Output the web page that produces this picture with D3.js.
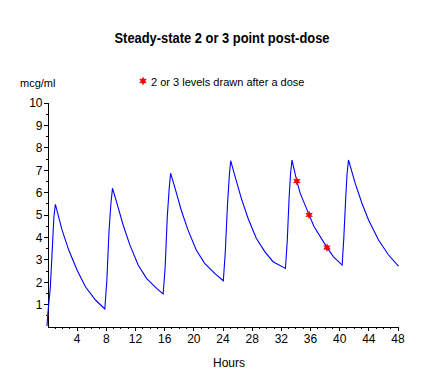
<!DOCTYPE html>
<html><head><meta charset="utf-8">
<script src="https://cdn.jsdelivr.net/npm/d3@7"></script>
<style>
body{margin:0;background:#fff;}
svg{display:block;font-family:"Liberation Sans",Arial,sans-serif;}
</style></head>
<body>
<script>
// ---- data ----
const hours = [0,0.1,0.45,0.75,0.95,1.15,2.06,2.98,4.12,5.27,6.65,7.93,
  8.2,8.5,8.75,8.98,9.53,10.44,11.36,12.5,13.65,15.03,15.93,
  16.2,16.5,16.75,16.95,17.5,18.4,19.33,20.47,21.62,23.0,24.18,
  24.45,24.75,25.0,25.19,25.74,26.65,27.57,28.7,29.86,31.0,32.7,
  32.95,33.2,33.4,33.6,34.26,34.73,35.95,36.6,38.4,39.3,40.48,
  40.7,40.95,41.15,41.35,42.27,43.19,44.1,45.47,46.84,48.2];
const levels = [0,0.5,1.7,3.6,4.9,5.43,4.29,3.39,2.5,1.75,1.16,0.76,
  2.0,4.2,5.4,6.15,5.55,4.51,3.62,2.72,2.13,1.68,1.43,
  2.6,4.9,6.1,6.82,6.22,5.18,4.29,3.39,2.8,2.35,2.02,
  3.3,5.4,6.7,7.38,6.74,5.7,4.81,3.92,3.32,2.87,2.57,
  3.8,5.7,6.8,7.41,6.47,5.92,4.96,4.45,3.5,3.09,2.72,
  3.9,5.6,6.8,7.41,6.37,5.48,4.73,3.84,3.17,2.67];
const drawnHours = [34.26,35.95,38.4];
const drawnLevels = [6.47,4.96,3.5];
const startHour = [0.1];
const startLevel = [0.5];
const xTickLabels = [4,8,12,16,20,24,28,32,36,40,44,48];
const yTickLabels = [1,2,3,4,5,6,7,8,9,10];
const titleText = "Steady-state 2 or 3 point post-dose";
const yUnit = "mcg/ml";
const xTitle = "Hours";
const legendText = "2 or 3 levels drawn after a dose";

// ---- drawing ----
const W = 433, H = 381;
const svg = d3.select("body").append("svg").attr("width", W).attr("height", H);

const x = d3.scaleLinear().domain([0,48]).range([47, 397]);
const y = d3.scaleLinear().domain([0,10]).range([326, 102]);

svg.append("text").attr("x", 222).attr("y", 43).attr("text-anchor","middle")
  .attr("font-size", 14).attr("font-weight","bold")
  .attr("textLength", 215).attr("lengthAdjust","spacingAndGlyphs").text(titleText);
svg.append("text").attr("x", 20).attr("y", 87).attr("font-size", 11).text(yUnit);

// six-pointed star marker
const hexStar = {
  draw(ctx, size) {
    const R = Math.sqrt(size) * 0.62, r = R * 0.5;
    for (let i = 0; i < 12; i++) {
      const a = -Math.PI / 2 + i * Math.PI / 6;
      const rr = i % 2 === 0 ? R : r;
      const px = rr * Math.cos(a), py = rr * Math.sin(a);
      if (i === 0) ctx.moveTo(px, py); else ctx.lineTo(px, py);
    }
    ctx.closePath();
  }
};
const starPath = d3.symbol().type(hexStar).size(50);

svg.append("path").attr("d", starPath()).attr("transform","translate(143,81)").attr("fill","#ff0000");
svg.append("text").attr("x", 151).attr("y", 86).attr("font-size", 11).text(legendText);

// axes
const gx = svg.append("g").attr("transform","translate(0.5,326.5)")
  .style("shape-rendering","crispEdges");
gx.call(d3.axisBottom(x).tickValues(d3.range(1,49,1)).tickSize(2).tickSizeOuter(0).tickFormat(""));
gx.selectAll(".tick").filter(d => xTickLabels.includes(d)).select("line").attr("y2", 4);
gx.selectAll(".tick").filter(d => xTickLabels.includes(d)).select("text")
  .text(d => d).attr("font-size", 12).attr("font-family","Liberation Sans, Arial, sans-serif").attr("dy","0.71em").attr("y", 8).attr("fill","#000");
gx.select(".domain").attr("stroke","#000");
gx.selectAll("line").attr("stroke","#000");

const gy = svg.append("g").attr("transform","translate(47.5,0.5)")
  .style("shape-rendering","crispEdges");
gy.call(d3.axisLeft(y).tickValues(d3.range(0.5,10.01,0.5)).tickSize(2).tickSizeOuter(0).tickFormat(""));
gy.selectAll(".tick").filter(d => yTickLabels.includes(d)).select("line").attr("x2", -4);
gy.selectAll(".tick").filter(d => yTickLabels.includes(d)).select("text")
  .text(d => d).attr("font-size", 12).attr("font-family","Liberation Sans, Arial, sans-serif").attr("x", -5).attr("dy","0.36em").attr("fill","#000");
gy.select(".domain").attr("stroke","#000");
gy.selectAll("line").attr("stroke","#000");

svg.append("text").attr("x", 229).attr("y", 367).attr("text-anchor","middle")
  .attr("font-size", 12).text(xTitle);

// concentration curve
const pts = hours.map((h,i) => [h, levels[i]]);
svg.append("path").datum(pts)
  .attr("d", d3.line().x(d => x(d[0])).y(d => y(d[1])))
  .attr("fill","none").attr("stroke","#0000ff").attr("stroke-width",1.1);

// start marker
svg.selectAll(".startm").data(startHour.map((h,i)=>[h,startLevel[i]])).join("rect")
  .attr("x", d => x(d[0]) - 1).attr("y", d => y(d[1]) - 0.5).attr("width", 2).attr("height", 1.5)
  .attr("fill","#ff0000");

// drawn levels
svg.selectAll(".drawn").data(drawnHours.map((h,i)=>[h,drawnLevels[i]])).join("path")
  .attr("d", starPath()).attr("fill","#ff0000")
  .attr("transform", d => `translate(${x(d[0])},${y(d[1])})`);
</script>
</body></html>
